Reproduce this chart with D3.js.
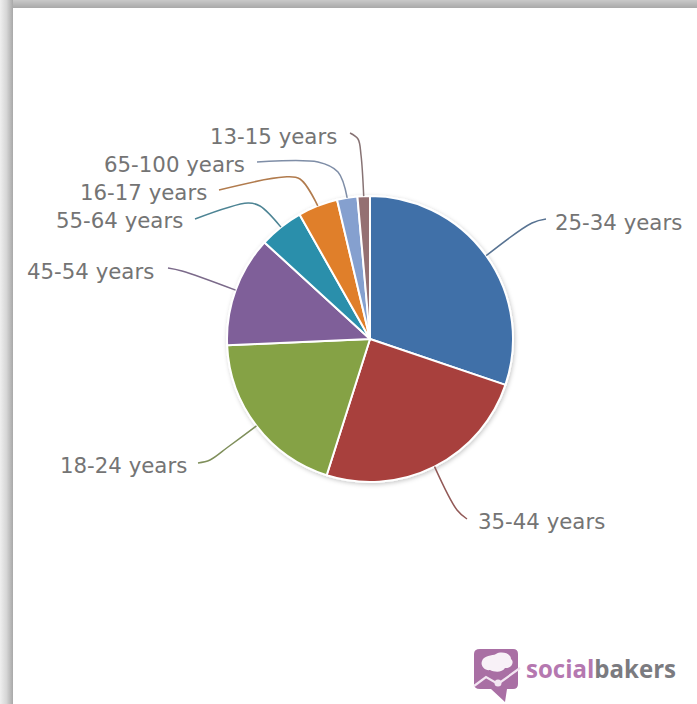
<!DOCTYPE html>
<html>
<head>
<meta charset="utf-8">
<script src="https://cdn.jsdelivr.net/npm/d3@7"></script>
<style>
  html, body { margin: 0; padding: 0; background: #fff; }
  svg { display: block; }
</style>
</head>
<body>
<svg id="chart" width="697" height="704"></svg>
<script>
// Share of audience by age group, in percent, clockwise from twelve o'clock
const ageGroups = ["25-34 years", "35-44 years", "18-24 years", "45-54 years",
                   "55-64 years", "16-17 years", "65-100 years", "13-15 years"];
const shares = [30.2, 24.7, 19.4, 12.5, 5.0, 4.5, 2.3, 1.4];
const sliceColors = ["#3f6fa8", "#a8403c", "#85a244", "#7f5f99",
                     "#2a8fab", "#e07f2a", "#85a0cf", "#946f72"];

// Label placement: text start, text middle, and the connector's bend points
const labelLayout = {
  "25-34 years":  { x: 555, y: 222, bends: [[546, 219], [532, 223]] },
  "35-44 years":  { x: 478, y: 521, bends: [[467, 519], [457, 510]] },
  "18-24 years":  { x: 60,  y: 465, bends: [[198, 463], [210, 460], [228, 447]] },
  "45-54 years":  { x: 27,  y: 271, bends: [[168, 268], [182, 271]] },
  "55-64 years":  { x: 56,  y: 220, bends: [[195, 219], [248, 203], [260, 206]] },
  "16-17 years":  { x: 80,  y: 192, bends: [[219, 190], [284, 177], [300, 179]] },
  "65-100 years": { x: 104, y: 164, bends: [[257, 162], [318, 162], [338, 172]] },
  "13-15 years":  { x: 210, y: 136, bends: [[350, 133], [358, 139], [361, 155]] }
};

const width = 697, height = 704;
const cx = 370, cy = 339, radius = 143;
const svg = d3.select("#chart");
const defs = svg.append("defs");

// Paper shadow along the top and left edges of the sheet
const topShade = defs.append("linearGradient").attr("id", "topShade")
  .attr("x1", 0).attr("y1", 0).attr("x2", 0).attr("y2", 1);
topShade.append("stop").attr("offset", 0).attr("stop-color", "#c9c9c9");
topShade.append("stop").attr("offset", 1).attr("stop-color", "#a9a9a9");
const leftShade = defs.append("linearGradient").attr("id", "leftShade")
  .attr("x1", 0).attr("y1", 0).attr("x2", 1).attr("y2", 0);
leftShade.append("stop").attr("offset", 0).attr("stop-color", "#efefef");
leftShade.append("stop").attr("offset", 0.5).attr("stop-color", "#d6d6d6");
leftShade.append("stop").attr("offset", 1).attr("stop-color", "#a8a8a8");
svg.append("rect").attr("width", width).attr("height", 8).attr("fill", "url(#topShade)");
svg.append("rect").attr("y", 0).attr("width", 13).attr("height", height).attr("fill", "url(#leftShade)");

const softShadow = defs.append("filter").attr("id", "pieShadow")
  .attr("x", "-10%").attr("y", "-10%").attr("width", "120%").attr("height", "120%");
softShadow.append("feDropShadow").attr("dx", 1).attr("dy", 1.5)
  .attr("stdDeviation", 2).attr("flood-color", "#000").attr("flood-opacity", 0.22);

const pie = d3.pie().sort(null).value(d => d);
const arcs = pie(shares);
const arc = d3.arc().innerRadius(0).outerRadius(radius);
const edgeArc = d3.arc().innerRadius(radius).outerRadius(radius);

const plot = svg.append("g").attr("transform", `translate(${cx},${cy})`);
plot.append("g").attr("filter", "url(#pieShadow)")
  .selectAll("path").data(arcs).join("path")
  .attr("d", arc)
  .attr("fill", (d, i) => sliceColors[i])
  .attr("stroke", "#fff")
  .attr("stroke-width", 2)
  .attr("stroke-linejoin", "round");

// Connectors run from each label to the rim at the middle of its slice
const connector = d3.line().curve(d3.curveCatmullRom.alpha(0.5));
svg.append("g").selectAll("path").data(arcs).join("path")
  .attr("d", (d, i) => {
    const [ex, ey] = edgeArc.centroid(d);
    return connector([...labelLayout[ageGroups[i]].bends, [cx + ex, cy + ey]]);
  })
  .attr("fill", "none")
  .attr("stroke", (d, i) => d3.interpolateRgb("#777777", sliceColors[i])(0.55))
  .attr("stroke-width", 1.5);

svg.append("g").selectAll("text").data(ageGroups).join("text")
  .attr("x", d => labelLayout[d].x)
  .attr("y", d => labelLayout[d].y)
  .attr("dominant-baseline", "central")
  .attr("font-family", "'DejaVu Sans', sans-serif")
  .attr("font-size", 21.3)
  .attr("fill", "#747474")
  .text(d => d);

// Brand mark in the lower right corner
const logo = svg.append("g");
logo.append("path")
  .attr("d", "M480 649H513Q518 649 518 654V684Q518 689 513 689H507L505 702L491 689H480Q474 689 474 684V654Q474 649 480 649Z")
  .attr("fill", "#a96fa4");
logo.append("path")
  .attr("d", "M482 661C484 655 492 656 496 654C501 651 511 653 511 659C515 662 511 669 505 668C502 673 494 672 490 670C485 671 480 666 482 661Z")
  .attr("fill", "#f8f1f7");
logo.append("path")
  .attr("d", d3.line()([[474, 686], [486, 677], [498, 684], [520, 668]]))
  .attr("fill", "none").attr("stroke", "#f3e6f2").attr("stroke-width", 2.2);
logo.append("circle").attr("cx", 498).attr("cy", 683).attr("r", 3.5).attr("fill", "#f3e6f2");

const brand = logo.append("text")
  .attr("x", 526).attr("y", 678)
  .attr("font-family", "'Open Sans', sans-serif")
  .attr("font-weight", 700)
  .attr("font-size", 25)
  .attr("textLength", 150)
  .attr("lengthAdjust", "spacingAndGlyphs");
brand.append("tspan").attr("fill", "#b578b0").text("social");
brand.append("tspan").attr("fill", "#7b7b80").text("bakers");
</script>
</body>
</html>
